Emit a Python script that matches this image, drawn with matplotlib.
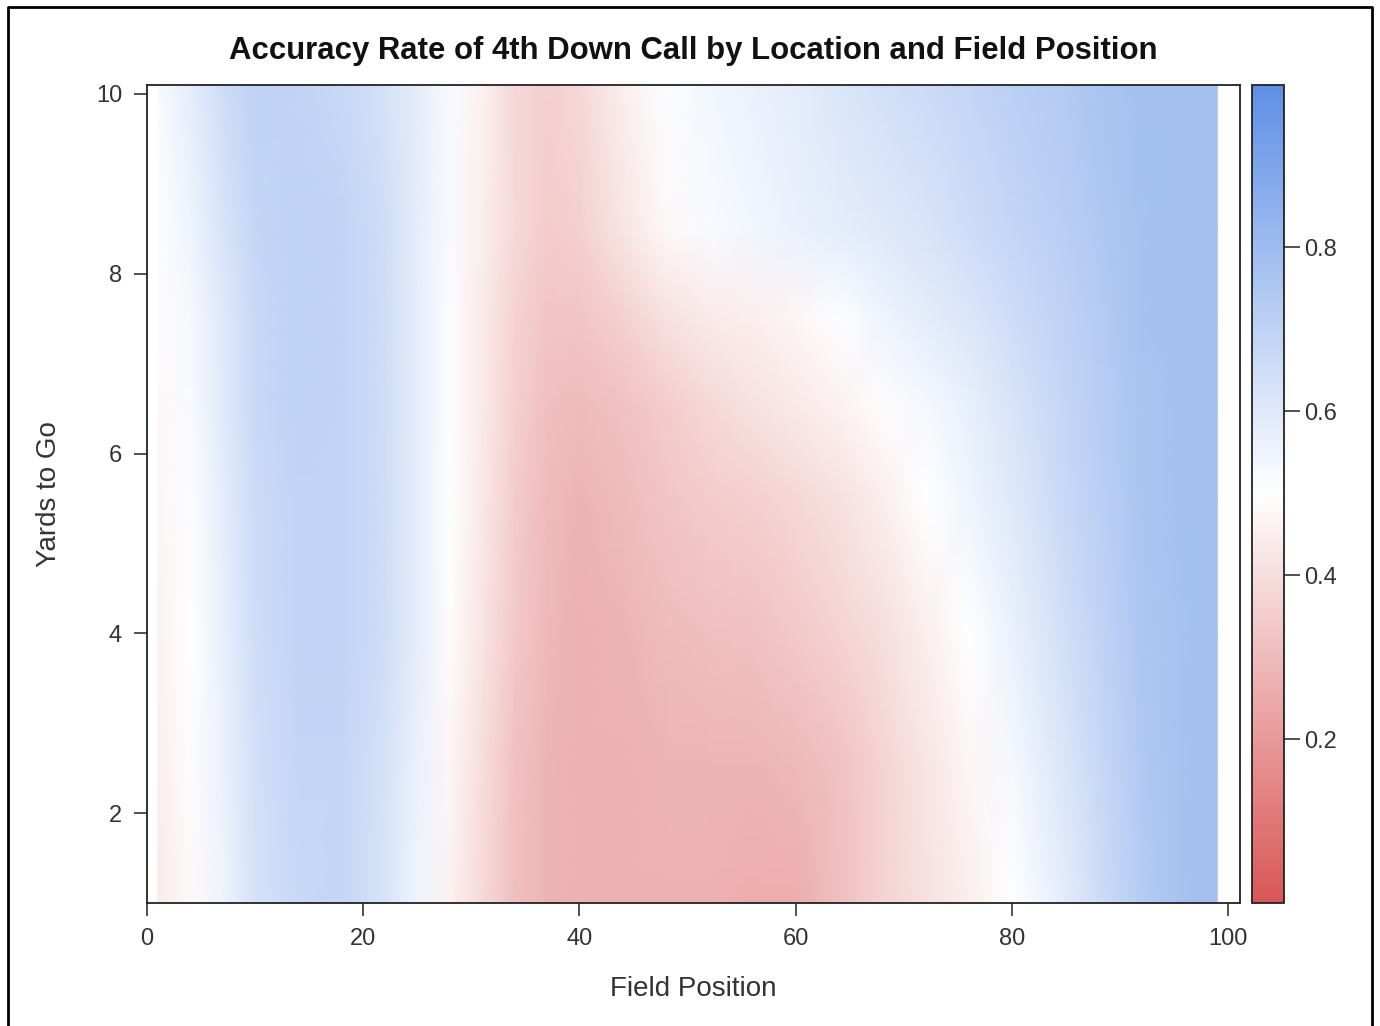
import matplotlib
matplotlib.use("Agg")
import matplotlib.pyplot as plt
import numpy as np
from matplotlib.colors import LinearSegmentedColormap
from matplotlib.lines import Line2D

plt.rcParams["font.family"] = ["Liberation Sans", "DejaVu Sans"]

# ---------- data ----------
field_position = [1, 4, 7, 10, 14, 18, 22, 25, 28, 31, 34, 37, 40, 44,
                  48, 52, 56, 60, 64, 68, 72, 76, 80, 84, 88, 92, 96, 99]
yards_to_go = [1, 2.5, 4, 5.5, 6.5, 7.5, 8.5, 10.1]

acc_y1 = [0.44, 0.48, 0.55, 0.63, 0.67, 0.68, 0.62, 0.55, 0.46, 0.39, 0.31, 0.28, 0.27, 0.27,
          0.27, 0.27, 0.26, 0.26, 0.31, 0.37, 0.41, 0.45, 0.50, 0.57, 0.65, 0.73, 0.77, 0.78]
acc_y2_5 = [0.45, 0.49, 0.56, 0.64, 0.68, 0.68, 0.63, 0.56, 0.47, 0.40, 0.32, 0.28, 0.27, 0.27,
            0.28, 0.28, 0.28, 0.29, 0.32, 0.37, 0.42, 0.47, 0.53, 0.60, 0.67, 0.74, 0.77, 0.78]
acc_y4 = [0.46, 0.50, 0.57, 0.65, 0.69, 0.69, 0.65, 0.58, 0.49, 0.42, 0.34, 0.29, 0.27, 0.28,
          0.30, 0.31, 0.32, 0.34, 0.37, 0.40, 0.45, 0.50, 0.56, 0.63, 0.69, 0.75, 0.77, 0.78]
acc_y5_5 = [0.47, 0.51, 0.58, 0.66, 0.69, 0.69, 0.65, 0.58, 0.50, 0.43, 0.35, 0.30, 0.28, 0.30,
            0.33, 0.35, 0.36, 0.38, 0.41, 0.45, 0.50, 0.55, 0.60, 0.66, 0.71, 0.76, 0.78, 0.78]
acc_y6_5 = [0.48, 0.52, 0.59, 0.67, 0.70, 0.69, 0.65, 0.58, 0.51, 0.44, 0.36, 0.31, 0.30, 0.32,
            0.35, 0.38, 0.41, 0.43, 0.46, 0.49, 0.53, 0.57, 0.62, 0.67, 0.72, 0.76, 0.78, 0.78]
acc_y7_5 = [0.49, 0.53, 0.60, 0.67, 0.70, 0.69, 0.65, 0.58, 0.51, 0.44, 0.37, 0.33, 0.33, 0.36,
            0.41, 0.44, 0.45, 0.47, 0.51, 0.55, 0.58, 0.61, 0.65, 0.69, 0.73, 0.77, 0.78, 0.78]
acc_y8_5 = [0.51, 0.55, 0.62, 0.68, 0.70, 0.69, 0.65, 0.58, 0.52, 0.45, 0.39, 0.35, 0.36, 0.42,
            0.48, 0.52, 0.54, 0.56, 0.58, 0.60, 0.62, 0.65, 0.68, 0.71, 0.74, 0.77, 0.78, 0.78]
acc_y10 = [0.52, 0.58, 0.65, 0.70, 0.69, 0.67, 0.63, 0.58, 0.52, 0.46, 0.38, 0.36, 0.38, 0.45,
           0.51, 0.54, 0.56, 0.58, 0.61, 0.64, 0.66, 0.68, 0.71, 0.73, 0.76, 0.78, 0.78, 0.78]

x_ticks = [0, 20, 40, 60, 80, 100]
y_ticks = [2, 4, 6, 8, 10]
cbar_ticks = [0.2, 0.4, 0.6, 0.8]

accuracy = np.array([acc_y1, acc_y2_5, acc_y4, acc_y5_5,
                     acc_y6_5, acc_y7_5, acc_y8_5, acc_y10])

# ---------- plot ----------
cmap = LinearSegmentedColormap.from_list(
    "sas_redblue", [(0.0, "#d95656"), (0.5, "#ffffff"), (1.0, "#5e8fe6")])

fig = plt.figure(figsize=(13.8, 10.26), dpi=100)
ax = fig.add_axes([147 / 1380, 1 - 903 / 1026, 1093 / 1380, 818 / 1026])
cax = fig.add_axes([1252 / 1380, 1 - 903 / 1026, 32 / 1380, 818 / 1026])

X, Y = np.meshgrid(field_position, yards_to_go)
mesh = ax.pcolormesh(X, Y, accuracy, cmap=cmap, vmin=0.0, vmax=1.0,
                     shading="gouraud", rasterized=True)

ax.set_xlim(0, 101.1)
ax.set_ylim(1, 10.1)
ax.set_xticks(x_ticks)
ax.set_yticks(y_ticks)
ax.tick_params(direction="out", length=9.5, width=1.2, labelsize=17,
               labelcolor="#333333", color="#333333", pad=8.5)
for s in ax.spines.values():
    s.set_linewidth(1.3)
    s.set_color("#222222")

ax.set_xlabel("Field Position", fontsize=20, color="#333333", labelpad=19)
ax.set_ylabel("Yards to Go", fontsize=20, color="#333333", labelpad=24)
ax.set_title("Accuracy Rate of 4th Down Call by Location and Field Position",
             fontsize=22.4, fontweight="bold", color="#111111", pad=19)

cb = fig.colorbar(mesh, cax=cax)
cb.set_ticks(cbar_ticks)
cb.ax.set_ylim(0.0, 0.998)
cb.ax.tick_params(direction="out", length=11.5, width=1.2, labelsize=17,
                  labelcolor="#333333", color="#333333", pad=3)
cb.outline.set_linewidth(1.3)
cb.outline.set_edgecolor("#222222")

# outer frame (left, top, right)
fx = [8 / 1380, 8 / 1380, 1372 / 1380, 1372 / 1380]
fy = [0.0, 1 - 7 / 1026, 1 - 7 / 1026, 0.0]
fig.add_artist(Line2D(fx, fy, transform=fig.transFigure, color="black", linewidth=2))

fig.savefig("out.png", dpi=100)
